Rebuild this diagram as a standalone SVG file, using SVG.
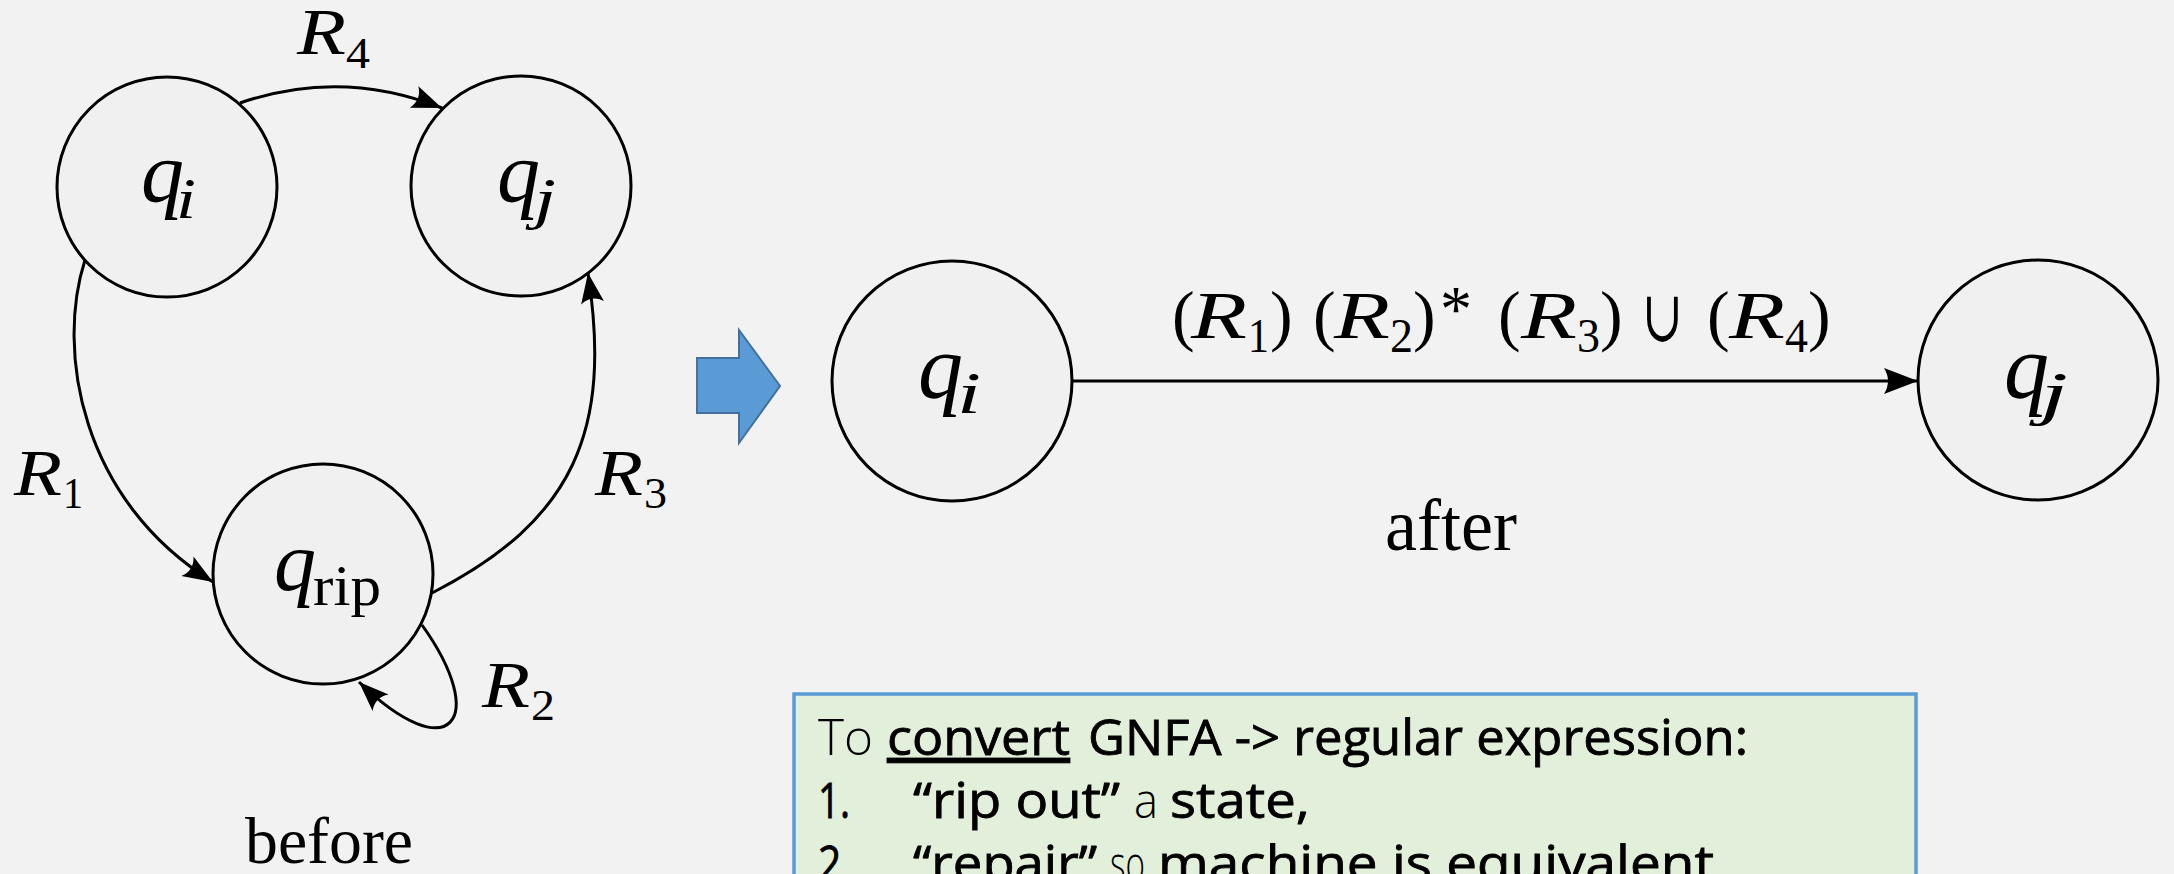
<svg xmlns="http://www.w3.org/2000/svg" width="2174" height="874" viewBox="0 0 2174 874">
  <style>
    .state { fill: #F0F0F0; stroke: #000; stroke-width: 3; }
    .edge { fill: none; stroke: #000; stroke-width: 3; }
    .math { font-family: "Liberation Serif", "Times New Roman", serif; fill: #000; }
    .it { font-style: italic; }
    .cap { font-family: "Liberation Serif", "Times New Roman", serif; fill: #000; }
    .note { font-family: "Open Sans", "Noto Sans", sans-serif; font-size: 49px; fill: #000; stroke: #000; stroke-width: 0.8; }
    .light { font-weight: 300; stroke: none; }
  </style>
  <defs>
    <marker id="tip" viewBox="-32 -13 34 26" markerWidth="34" markerHeight="26" refX="0" refY="0" orient="auto" markerUnits="userSpaceOnUse">
      <path d="M0,0 L-30,-11.5 Q-22,0 -30,11.5 Z" fill="#000"/>
    </marker>
    <marker id="tipBig" viewBox="-36 -14 38 28" markerWidth="38" markerHeight="28" refX="0" refY="0" orient="auto" markerUnits="userSpaceOnUse">
      <path d="M0,0 L-34,-13 Q-26,0 -34,13 Z" fill="#000"/>
    </marker>
  </defs>

  <rect width="2174" height="874" fill="#F2F2F2"/>

  <!-- before: three-state GNFA fragment -->
  <g id="connectors-before">
    <path class="edge" d="M240,103 Q341,68 442,108" marker-end="url(#tip)"/>
    <path class="edge" d="M85,260 C56,350 80,500 213,582" marker-end="url(#tip)"/>
    <path class="edge" d="M432,593 C575,520 612,430 588,273" marker-end="url(#tip)"/>
    <path class="edge" d="M422,625 C490,720 450,770 359,682" marker-end="url(#tip)"/>
  </g>

  <g id="node-qi-before">
    <circle class="state" cx="167" cy="187" r="110"/>
    <text class="math it" x="141" y="201" font-size="86">q</text>
    <text class="math it" x="176" y="218" font-size="58" textLength="20" lengthAdjust="spacingAndGlyphs">i</text>
  </g>
  <g id="node-qj-before">
    <circle class="state" cx="521" cy="186" r="110"/>
    <text class="math it" x="497" y="201" font-size="86">q</text>
    <text class="math it" x="534" y="218" font-size="58" textLength="22" lengthAdjust="spacingAndGlyphs">j</text>
  </g>
  <g id="node-qrip">
    <circle class="state" cx="323" cy="574" r="110"/>
    <text class="math it" x="274" y="590" font-size="84">q</text>
    <text class="math" x="313" y="605" font-size="56" textLength="68" lengthAdjust="spacingAndGlyphs">rip</text>
  </g>

  <g id="labels-before">
    <text class="math it" x="297" y="54" font-size="65" textLength="49" lengthAdjust="spacingAndGlyphs">R</text>
    <text class="math" x="346" y="68" font-size="45" textLength="24" lengthAdjust="spacingAndGlyphs">4</text>
    <text class="math it" x="14" y="495" font-size="65" textLength="48" lengthAdjust="spacingAndGlyphs">R</text>
    <text class="math" x="63" y="508" font-size="45" textLength="20" lengthAdjust="spacingAndGlyphs">1</text>
    <text class="math it" x="595" y="495" font-size="65" textLength="48" lengthAdjust="spacingAndGlyphs">R</text>
    <text class="math" x="644" y="508" font-size="45" textLength="23" lengthAdjust="spacingAndGlyphs">3</text>
    <text class="math it" x="482" y="707" font-size="65" textLength="48" lengthAdjust="spacingAndGlyphs">R</text>
    <text class="math" x="531" y="720" font-size="45" textLength="24" lengthAdjust="spacingAndGlyphs">2</text>
    <text class="cap" x="245" y="863" font-size="66" textLength="168" lengthAdjust="spacingAndGlyphs">before</text>
  </g>

  <!-- transformation arrow -->
  <g id="step-arrow">
    <polygon points="697,358 739,358 739,330 780,386 739,443 739,413 697,413" fill="#5B9BD5" stroke="#41719C" stroke-width="2"/>
  </g>

  <!-- after: single edge -->
  <g id="connectors-after">
    <line class="edge" x1="1072" y1="381" x2="1918" y2="381" stroke-width="3.5" marker-end="url(#tipBig)"/>
  </g>

  <g id="node-qi-after">
    <circle class="state" cx="952" cy="381" r="120"/>
    <text class="math it" x="918" y="398" font-size="90">q</text>
    <text class="math it" x="957" y="413" font-size="60" textLength="24" lengthAdjust="spacingAndGlyphs">i</text>
  </g>
  <g id="node-qj-after">
    <circle class="state" cx="2038" cy="380" r="120"/>
    <text class="math it" x="2004" y="398" font-size="90">q</text>
    <text class="math it" x="2040" y="413" font-size="60" textLength="28" lengthAdjust="spacingAndGlyphs">j</text>
  </g>

  <g id="label-after">
    <text class="math" x="1172" y="338" font-size="68">(</text>
    <text class="math it" x="1191" y="338" font-size="68" textLength="56" lengthAdjust="spacingAndGlyphs">R</text>
    <text class="math" x="1248" y="352" font-size="48" textLength="21" lengthAdjust="spacingAndGlyphs">1</text>
    <text class="math" x="1270" y="338" font-size="68">)</text>
    <text class="math" x="1313" y="338" font-size="68">(</text>
    <text class="math it" x="1334" y="338" font-size="68" textLength="56" lengthAdjust="spacingAndGlyphs">R</text>
    <text class="math" x="1390" y="352" font-size="48" textLength="23" lengthAdjust="spacingAndGlyphs">2</text>
    <text class="math" x="1413" y="338" font-size="68">)</text>
    <text class="math" x="1440" y="331" font-size="66" textLength="32" lengthAdjust="spacingAndGlyphs">*</text>
    <text class="math" x="1498" y="338" font-size="68">(</text>
    <text class="math it" x="1521" y="338" font-size="68" textLength="56" lengthAdjust="spacingAndGlyphs">R</text>
    <text class="math" x="1577" y="352" font-size="48" textLength="23" lengthAdjust="spacingAndGlyphs">3</text>
    <text class="math" x="1600" y="338" font-size="68">)</text>
    <text x="1642" y="341" font-family="DejaVu Serif, serif" font-size="72" textLength="41" lengthAdjust="spacingAndGlyphs">∪</text>
    <text class="math" x="1707" y="338" font-size="68">(</text>
    <text class="math it" x="1729" y="338" font-size="68" textLength="56" lengthAdjust="spacingAndGlyphs">R</text>
    <text class="math" x="1785" y="352" font-size="48" textLength="23" lengthAdjust="spacingAndGlyphs">4</text>
    <text class="math" x="1808" y="338" font-size="68">)</text>
    <text class="cap" x="1385" y="550" font-size="74" textLength="132" lengthAdjust="spacingAndGlyphs">after</text>
  </g>

  <!-- procedure note -->
  <g id="note">
    <rect x="794" y="694" width="1122" height="220" fill="#E2EFDA" stroke="#5B9BD5" stroke-width="3.5"/>
    <text class="note light" x="818" y="755" textLength="55" lengthAdjust="spacingAndGlyphs">To</text>
    <text class="note" x="887" y="755" textLength="183" lengthAdjust="spacingAndGlyphs" text-decoration="underline">convert</text>
    <text class="note" x="1088" y="755" textLength="660" lengthAdjust="spacingAndGlyphs">GNFA -&gt; regular expression:</text>
    <text class="note" x="818" y="818" textLength="32" lengthAdjust="spacingAndGlyphs">1.</text>
    <text class="note" x="913" y="818" textLength="207" lengthAdjust="spacingAndGlyphs">“rip out”</text>
    <text class="note light" x="1134" y="818" textLength="24" lengthAdjust="spacingAndGlyphs">a</text>
    <text class="note" x="1170" y="818" textLength="140" lengthAdjust="spacingAndGlyphs">state,</text>
    <text class="note" x="818" y="881" textLength="34" lengthAdjust="spacingAndGlyphs">2.</text>
    <text class="note" x="913" y="881" textLength="184" lengthAdjust="spacingAndGlyphs">“repair”</text>
    <text class="note light" x="1110" y="881" textLength="35" lengthAdjust="spacingAndGlyphs">so</text>
    <text class="note" x="1158" y="881" textLength="556" lengthAdjust="spacingAndGlyphs">machine is equivalent</text>
  </g>
</svg>
